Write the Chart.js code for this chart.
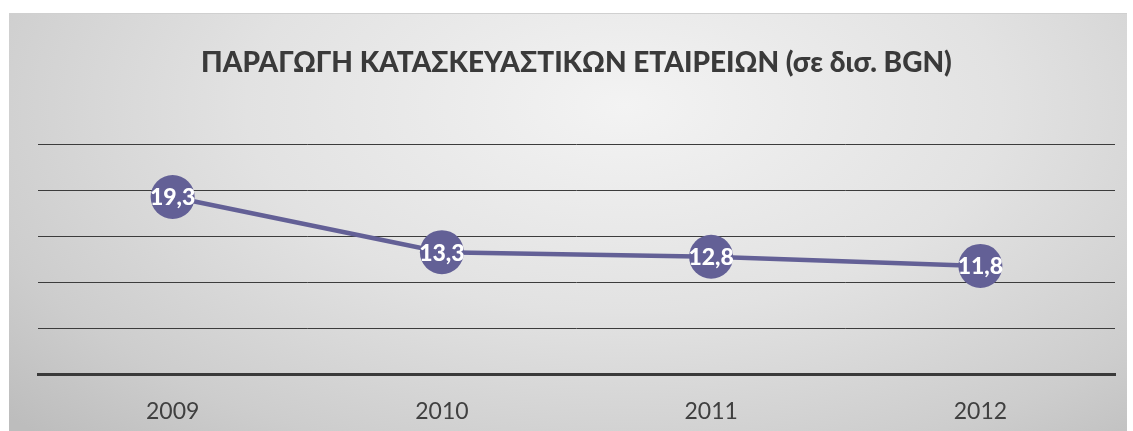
<!DOCTYPE html>
<html>
<head>
<meta charset="utf-8">
<script src="https://cdn.jsdelivr.net/npm/chart.js@4/dist/chart.umd.min.js"></script>
<style>
  html, body { margin: 0; padding: 0; background: #ffffff; width: 1133px; height: 431px; overflow: hidden; }
  #box {
    position: absolute; left: 9px; top: 13px; width: 1118px; height: 418px;
    background: radial-gradient(ellipse 75% 110% at 55% 22%, #f3f3f3 0%, #e2e2e2 45%, #cdcdcd 80%, #bdbdbd 100%);
    border-top: 1px solid #d0d0d0;
    box-sizing: border-box;
    overflow: hidden;
  }
  canvas { display: block; }
</style>
</head>
<body>
<div id="box"><canvas id="c" width="1128" height="417"></canvas></div>
<script>
const titleText = "ΠΑΡΑΓΩΓΗ ΚΑΤΑΣΚΕΥΑΣΤΙΚΩΝ ΕΤΑΙΡΕΙΩΝ (σε δισ. BGN)";
const categories = ["2009", "2010", "2011", "2012"];
const values = [19.3, 13.3, 12.8, 11.8];
const yTicks = [0, 5, 10, 15, 20, 25];

const seriesColor = "#636096";

const labelPlugin = {
  id: "pointLabels",
  afterDatasetsDraw(chart) {
    const ctx = chart.ctx;
    const meta = chart.getDatasetMeta(0);
    ctx.save();
    ctx.fillStyle = "#ffffff";
    ctx.font = "900 23px Lato";
    ctx.textAlign = "center";
    ctx.textBaseline = "middle";
    meta.data.forEach((pt, i) => {
      const txt = values[i].toFixed(1).replace(".", ",");
      ctx.fillText(txt, pt.x, pt.y + 1);
    });
    ctx.restore();
  }
};

new Chart(document.getElementById("c"), {
  type: "line",
  data: {
    labels: categories,
    datasets: [{
      data: values,
      borderColor: seriesColor,
      backgroundColor: seriesColor,
      borderWidth: 4.5,
      pointRadius: 22,
      pointHoverRadius: 22,
      pointBackgroundColor: seriesColor,
      pointBorderColor: seriesColor,
      pointBorderWidth: 0,
      tension: 0,
      clip: false
    }]
  },
  options: {
    responsive: false,
    animation: false,
    devicePixelRatio: 1,
    layout: { padding: { left: 29, right: 22, top: 0, bottom: -17 } },
    plugins: {
      legend: { display: false },
      tooltip: { enabled: false },
      title: {
        display: true,
        text: titleText,
        color: "#3a3a3a",
        font: { family: "Lato", weight: "900", size: 28 },
        padding: { top: 32, bottom: 65 }
      }
    },
    scales: {
      x: {
        offset: true,
        grid: { display: false, drawTicks: false },
        border: { display: true, color: "#3a3a3a", width: 3 },
        ticks: { color: "#404040", font: { family: "Lato", size: 23 }, padding: 23 }
      },
      y: {
        min: yTicks[0],
        max: yTicks[yTicks.length - 1],
        afterBuildTicks(scale) { scale.ticks = yTicks.map(v => ({ value: v })); },
        grid: { color: "#3c3c3c", lineWidth: 1, drawTicks: false },
        border: { display: false },
        ticks: { display: false }
      }
    }
  },
  plugins: [labelPlugin]
});
</script>
</body>
</html>
